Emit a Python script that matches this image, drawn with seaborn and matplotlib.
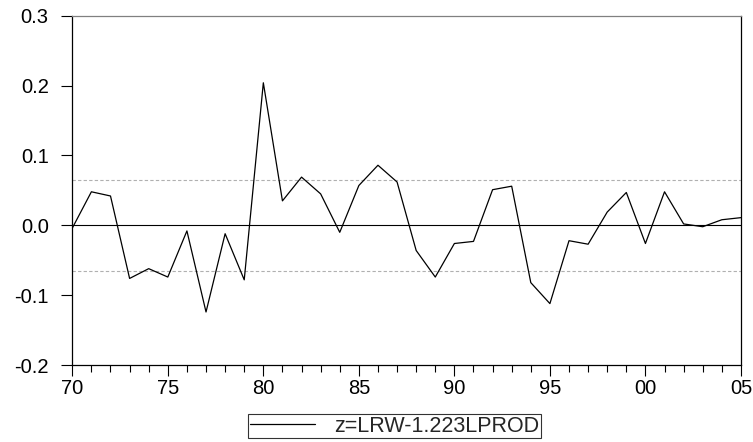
import matplotlib
matplotlib.use("Agg")
import matplotlib.pyplot as plt
import seaborn as sns
import pandas as pd
from matplotlib.ticker import MultipleLocator, FixedLocator

years = list(range(1970, 2006))
z_values = [-0.004, 0.048, 0.042, -0.076, -0.062, -0.074, -0.008, -0.124, -0.012, -0.078,
            0.204, 0.035, 0.069, 0.045, -0.010, 0.057, 0.086, 0.062, -0.036, -0.074,
            -0.026, -0.023, 0.051, 0.056, -0.082, -0.112, -0.022, -0.027, 0.019, 0.047,
            -0.026, 0.048, 0.002, -0.002, 0.008, 0.011]
band = 0.065
series_label = "z=LRW-1.223LPROD"
x_tick_years = [1970, 1975, 1980, 1985, 1990, 1995, 2000, 2005]
x_tick_labels = ["70", "75", "80", "85", "90", "95", "00", "05"]
y_ticks = [-0.2, -0.1, 0.0, 0.1, 0.2, 0.3]

sns.set_theme(style="white")
plt.rcParams['font.family'] = ['Liberation Sans', 'DejaVu Sans']

df = pd.DataFrame({"year": years, "z": z_values})

fig = plt.figure(figsize=(7.53, 4.42), dpi=100)
ax = fig.add_axes([0.096, 0.174, 0.888, 0.7905])

ax.axhline(band, color="#b0b0b0", lw=0.8, ls=(0, (3, 2)), zorder=1)
ax.axhline(-band, color="#b0b0b0", lw=0.8, ls=(0, (3, 2)), zorder=1)
ax.axhline(0.0, color="black", lw=0.8, zorder=1)

sns.lineplot(data=df, x="year", y="z", ax=ax, color="black", lw=0.9,
             label=series_label, legend=False, zorder=3)

ax.set_xlim(1970, 2005)
ax.set_ylim(-0.2, 0.3)
ax.set_xlabel("")
ax.set_ylabel("")
ax.xaxis.set_major_locator(FixedLocator(x_tick_years))
ax.set_xticklabels(x_tick_labels)
ax.xaxis.set_minor_locator(MultipleLocator(1))
ax.set_yticks(y_ticks)
ax.set_yticklabels([f"{v:.1f}" for v in y_ticks])
ax.tick_params(axis="both", which="major", direction="out", length=8, width=0.8,
               colors="black", labelsize=14.5, bottom=True, left=True)
ax.tick_params(axis="x", which="major", pad=2)
ax.tick_params(axis="y", which="major", pad=9)
ax.tick_params(axis="x", which="minor", direction="out", length=5, width=0.8,
               colors="black", bottom=True)

for side in ["left", "bottom", "right"]:
    ax.spines[side].set_color("black")
    ax.spines[side].set_linewidth(0.9)
ax.spines["top"].set_color("#808080")
ax.spines["top"].set_linewidth(0.9)

h, l = ax.get_legend_handles_labels()
leg = fig.legend(h, l, loc="center", bbox_to_anchor=(0.524, 0.036), frameon=True,
                 fancybox=False, edgecolor="black", fontsize=15.5, handlelength=3.0,
                 borderpad=0.08, handletextpad=0.9, borderaxespad=0)
leg.get_frame().set_linewidth(0.8)

fig.savefig("out.png", dpi=100)
